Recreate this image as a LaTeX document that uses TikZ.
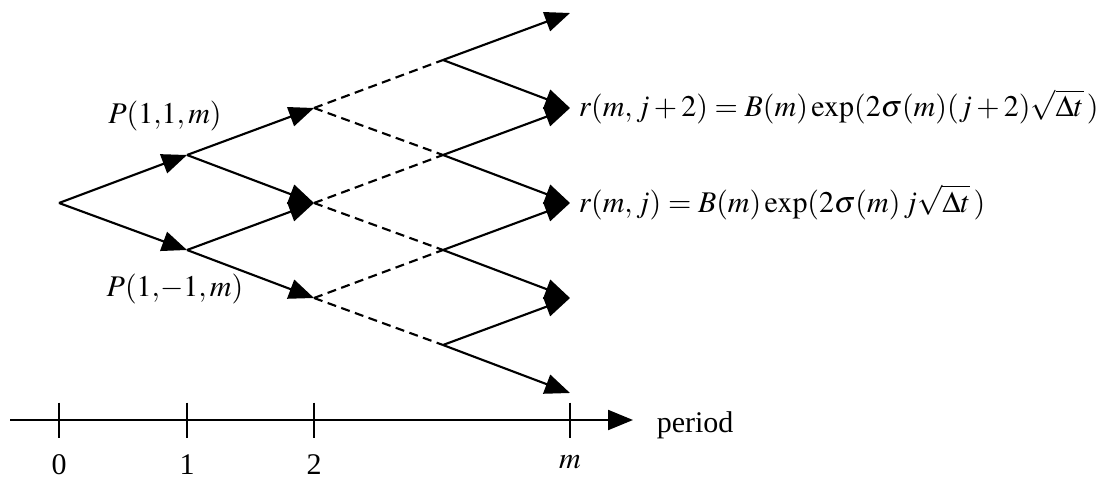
\documentclass[tikz,border=0pt]{standalone}
\usepackage{mathptmx}
\usepackage{fontspec}
\setmainfont{Liberation Serif}
\usetikzlibrary{arrows.meta}

\begin{document}
\begin{tikzpicture}[
        x=0.4pt, y=-0.4pt,
        every node/.style={font=\fontsize{12}{14}\selectfont},
        branch/.style={line width=0.85pt},
        arrow/.style={branch, -{Triangle[length=10pt, width=8pt]}},
        lattice/.style={branch, dash pattern=on 3.6pt off 2.2pt},
        tick/.style={line width=0.7pt}
    ]
        \useasboundingbox (0,0) rectangle (1120,479);

        % lattice points
        \coordinate (n0) at (59,203);
        \coordinate (n1u) at (187,155);
        \coordinate (n1d) at (187,250);
        \coordinate (n2a) at (314,108);
        \coordinate (n2b) at (314,203);
        \coordinate (n2c) at (314,298);
        \coordinate (n3a) at (443,60);
        \coordinate (n3b) at (443,155);
        \coordinate (n3c) at (443,250);
        \coordinate (n3d) at (443,345);
        \coordinate (n4a) at (570,13);
        \coordinate (n4b) at (570,108);
        \coordinate (n4c) at (570,203);
        \coordinate (n4d) at (570,298);
        \coordinate (n4e) at (570,393);

        \draw[arrow] (n0) -- (n1u);
        \draw[arrow] (n0) -- (n1d);
        \draw[arrow] (n1u) -- (n2a);
        \draw[arrow] (n1u) -- (n2b);
        \draw[arrow] (n1d) -- (n2b);
        \draw[arrow] (n1d) -- (n2c);
        \draw[lattice] (n2a) -- (n3a);
        \draw[lattice] (n2a) -- (n3b);
        \draw[lattice] (n2b) -- (n3b);
        \draw[lattice] (n2b) -- (n3c);
        \draw[lattice] (n2c) -- (n3c);
        \draw[lattice] (n2c) -- (n3d);
        \draw[arrow] (n3a) -- (n4a);
        \draw[arrow] (n3a) -- (n4b);
        \draw[arrow] (n3b) -- (n4b);
        \draw[arrow] (n3b) -- (n4c);
        \draw[arrow] (n3c) -- (n4c);
        \draw[arrow] (n3c) -- (n4d);
        \draw[arrow] (n3d) -- (n4d);
        \draw[arrow] (n3d) -- (n4e);

        \node (pup) at (165,116) {$P(1{,}1,m)$};
        \node (pdown) at (175,289) {$P(1{,}{-1},m)$};
        \node[anchor=base west] (rtop) at (570,117) {$r(m, j+2) = B(m)\exp(2\sigma(m)(j+2)\sqrt{\Delta t}\,)$};
        \node[anchor=base west] (rmid) at (570,212) {$r(m, j) = B(m)\exp(2\sigma(m)\,j\sqrt{\Delta t}\,)$};

        % time axis
        \coordinate (axstart) at (10,420);
        \coordinate (axend) at (633,420);
        \draw[arrow] (axstart) -- (axend);
        \node[anchor=west] (period) at (648,425) {period};
        \coordinate (t0) at (59,420);
        \coordinate (t1) at (187,420);
        \coordinate (t2) at (314,420);
        \coordinate (tm) at (570,420);
        \draw[tick] ([yshift=7pt]t0) -- ([yshift=-7pt]t0);
        \draw[tick] ([yshift=7pt]t1) -- ([yshift=-7pt]t1);
        \draw[tick] ([yshift=7pt]t2) -- ([yshift=-7pt]t2);
        \draw[tick] ([yshift=7pt]tm) -- ([yshift=-7pt]tm);
        \node (l0) at (59,465) {0};
        \node (l1) at (187,465) {1};
        \node (l2) at (314,465) {2};
        \node (lm) at (570,462) {$m$};
    \end{tikzpicture}
\end{document}
